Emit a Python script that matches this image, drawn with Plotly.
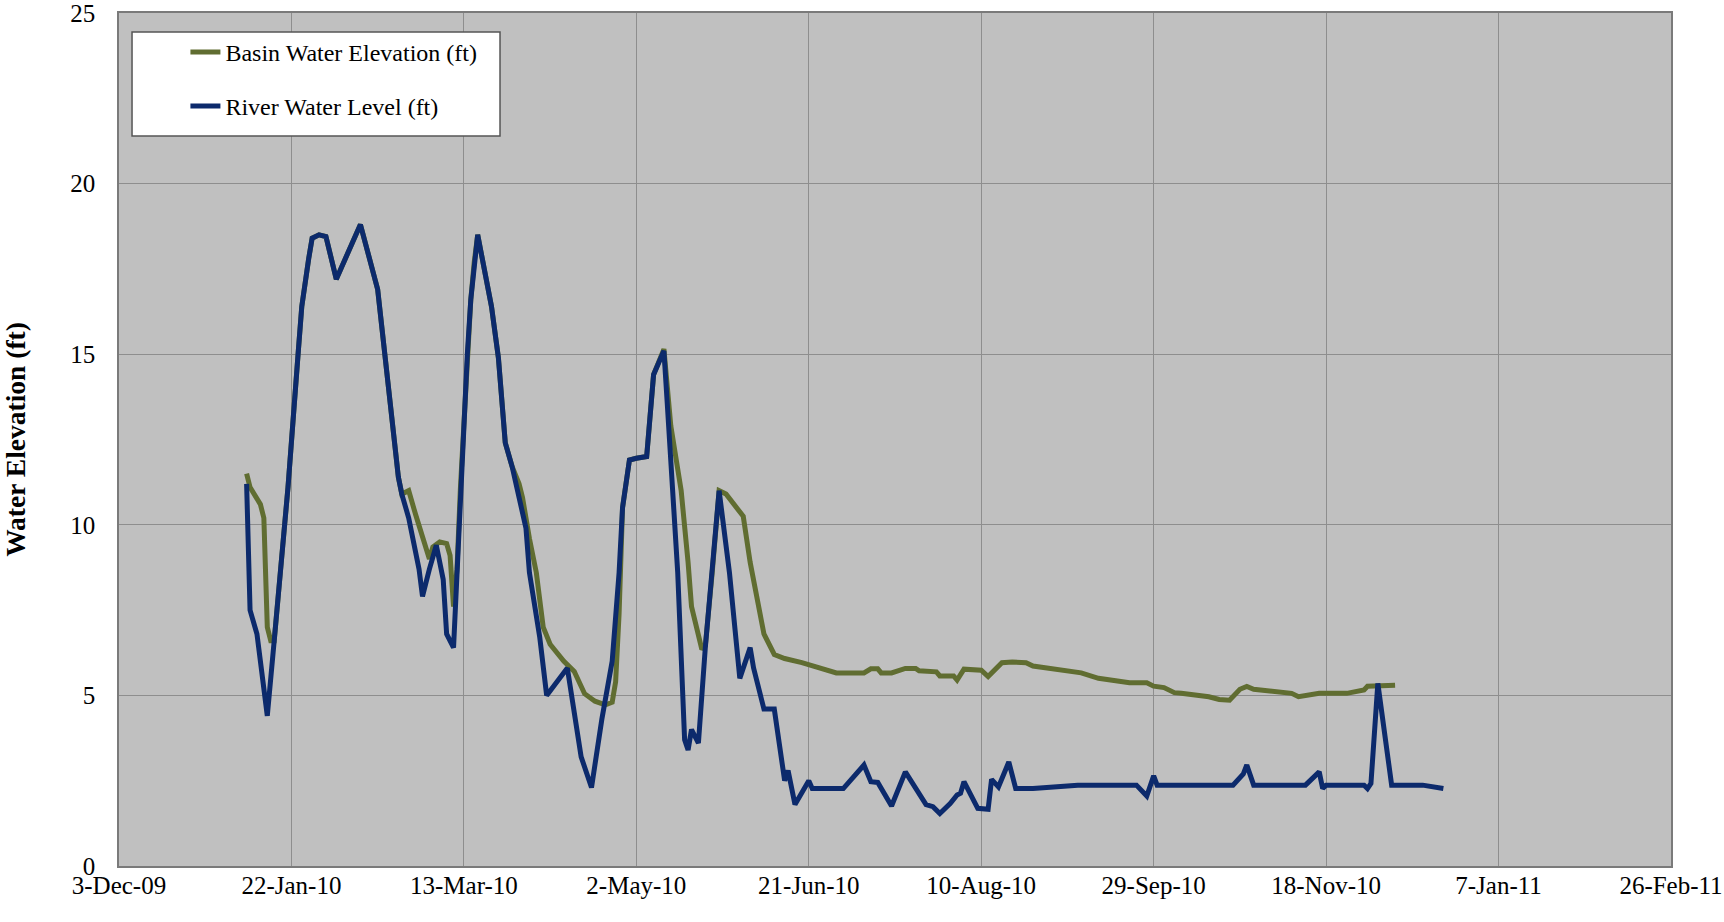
import plotly.graph_objects as go

# ---------------- data ----------------
river_dates = [
    "2010-01-09", "2010-01-10", "2010-01-12", "2010-01-13", "2010-01-15", "2010-01-17",
    "2010-01-19", "2010-01-21", "2010-01-24", "2010-01-25", "2010-01-27", "2010-01-28",
    "2010-01-30", "2010-02-01", "2010-02-04", "2010-02-11", "2010-02-16", "2010-02-18",
    "2010-02-21", "2010-02-22", "2010-02-23", "2010-02-25", "2010-02-28", "2010-03-01",
    "2010-03-03", "2010-03-05", "2010-03-07", "2010-03-08", "2010-03-10", "2010-03-11",
    "2010-03-12", "2010-03-14", "2010-03-15", "2010-03-16", "2010-03-17", "2010-03-21",
    "2010-03-23", "2010-03-25", "2010-03-27", "2010-03-31", "2010-04-01", "2010-04-04",
    "2010-04-06", "2010-04-12", "2010-04-16", "2010-04-19", "2010-04-22", "2010-04-25",
    "2010-04-27", "2010-04-28", "2010-04-30", "2010-05-02", "2010-05-05", "2010-05-07",
    "2010-05-10", "2010-05-11", "2010-05-14", "2010-05-16", "2010-05-17", "2010-05-18",
    "2010-05-20", "2010-05-22", "2010-05-24", "2010-05-26", "2010-05-29", "2010-06-01",
    "2010-06-04", "2010-06-05", "2010-06-08", "2010-06-11", "2010-06-14", "2010-06-15",
    "2010-06-17", "2010-06-21", "2010-06-22", "2010-07-01", "2010-07-07", "2010-07-09",
    "2010-07-11", "2010-07-12", "2010-07-15", "2010-07-19", "2010-07-21", "2010-07-25",
    "2010-07-27", "2010-07-29", "2010-08-01", "2010-08-03", "2010-08-04", "2010-08-05",
    "2010-08-09", "2010-08-12", "2010-08-13", "2010-08-15", "2010-08-18", "2010-08-20",
    "2010-08-25", "2010-09-07", "2010-09-24", "2010-09-27", "2010-09-29", "2010-09-30",
    "2010-10-22", "2010-10-25", "2010-10-26", "2010-10-28", "2010-11-12", "2010-11-16",
    "2010-11-17", "2010-11-18", "2010-11-29", "2010-11-30", "2010-12-01", "2010-12-03",
    "2010-12-07", "2010-12-16", "2010-12-22",
]
river_level = [
    11.2, 7.5, 6.8, 6.0, 4.4, 6.6,
    8.7, 11.1, 15.1, 16.4, 17.8, 18.4,
    18.5, 18.45, 17.2, 18.8, 16.9, 15.1,
    12.3, 11.4, 10.9, 10.2, 8.7, 7.9,
    8.7, 9.4, 8.4, 6.8, 6.4, 8.7,
    11.1, 15.0, 16.6, 17.7, 18.5, 16.4,
    14.9, 12.4, 11.7, 9.9, 8.6, 6.7,
    5.0, 5.8, 3.2, 2.3, 4.3, 6.0,
    8.6, 10.5, 11.9, 11.95, 12.0, 14.4,
    15.1, 13.5, 8.6, 3.7, 3.4, 4.0,
    3.6, 6.4, 8.6, 11.0, 8.6, 5.5,
    6.4, 5.8, 4.6, 4.6, 2.5, 2.8,
    1.8, 2.5, 2.27, 2.27, 2.96, 2.47,
    2.45, 2.27, 1.76, 2.76, 2.42, 1.8,
    1.74, 1.54, 1.83, 2.08, 2.13, 2.47,
    1.69, 1.66, 2.54, 2.32, 3.05, 2.27,
    2.27, 2.37, 2.37, 2.05, 2.64, 2.37,
    2.37, 2.7, 2.96, 2.37, 2.37, 2.76,
    2.27, 2.37, 2.37, 2.27, 2.42, 5.35,
    2.37, 2.37, 2.27,
]

basin_dates = [
    "2010-01-09", "2010-01-10", "2010-01-13", "2010-01-14", "2010-01-15", "2010-01-16",
    "2010-01-17", "2010-01-19", "2010-01-21", "2010-01-24", "2010-01-25", "2010-01-27",
    "2010-01-28", "2010-01-30", "2010-02-01", "2010-02-04", "2010-02-11", "2010-02-16",
    "2010-02-18", "2010-02-21", "2010-02-22", "2010-02-23", "2010-02-25", "2010-02-27",
    "2010-03-01", "2010-03-03", "2010-03-04", "2010-03-06", "2010-03-08", "2010-03-09",
    "2010-03-10", "2010-03-11", "2010-03-12", "2010-03-14", "2010-03-15", "2010-03-16",
    "2010-03-17", "2010-03-21", "2010-03-23", "2010-03-25", "2010-03-27", "2010-03-29",
    "2010-03-30", "2010-04-01", "2010-04-03", "2010-04-05", "2010-04-07", "2010-04-11",
    "2010-04-14", "2010-04-17", "2010-04-20", "2010-04-23", "2010-04-25", "2010-04-26",
    "2010-04-27", "2010-04-28", "2010-04-30", "2010-05-02", "2010-05-05", "2010-05-07",
    "2010-05-10", "2010-05-12", "2010-05-15", "2010-05-17", "2010-05-18", "2010-05-21",
    "2010-05-22", "2010-05-24", "2010-05-26", "2010-05-28", "2010-05-31", "2010-06-01",
    "2010-06-02", "2010-06-04", "2010-06-08", "2010-06-11", "2010-06-14", "2010-06-19",
    "2010-06-27", "2010-06-29", "2010-07-07", "2010-07-09", "2010-07-11", "2010-07-12",
    "2010-07-15", "2010-07-19", "2010-07-22", "2010-07-23", "2010-07-28", "2010-07-29",
    "2010-08-02", "2010-08-03", "2010-08-05", "2010-08-10", "2010-08-12", "2010-08-16",
    "2010-08-19", "2010-08-23", "2010-08-25", "2010-09-08", "2010-09-13", "2010-09-22",
    "2010-09-27", "2010-09-29", "2010-10-02", "2010-10-05", "2010-10-07", "2010-10-15",
    "2010-10-18", "2010-10-21", "2010-10-24", "2010-10-26", "2010-10-28", "2010-11-08",
    "2010-11-10", "2010-11-12", "2010-11-16", "2010-11-24", "2010-11-29", "2010-11-30",
    "2010-12-02", "2010-12-08",
]
basin_elev = [
    11.5, 11.1, 10.6, 10.2, 7.0, 6.6,
    6.6, 8.7, 11.1, 15.1, 16.4, 17.8,
    18.4, 18.5, 18.45, 17.2, 18.8, 16.9,
    15.1, 12.3, 11.4, 10.9, 11.0, 10.3,
    9.6, 9.0, 9.35, 9.5, 9.45, 9.1,
    7.6, 8.7, 11.1, 15.0, 16.6, 17.7,
    18.5, 16.4, 14.9, 12.4, 11.7, 11.2,
    10.8, 9.6, 8.6, 7.0, 6.5, 6.0,
    5.7, 5.05, 4.83, 4.72, 4.8, 5.4,
    7.4, 10.5, 11.9, 11.95, 12.0, 14.4,
    15.15, 12.9, 11.0, 8.9, 7.6, 6.35,
    6.45, 8.6, 11.0, 10.9, 10.5, 10.35,
    10.25, 8.9, 6.8, 6.2, 6.08, 5.96,
    5.74, 5.66, 5.66, 5.78, 5.78, 5.66,
    5.66, 5.79, 5.79, 5.72, 5.69, 5.57,
    5.57, 5.45, 5.77, 5.74, 5.55, 5.96,
    5.98, 5.96, 5.86, 5.66, 5.5, 5.37,
    5.37, 5.27, 5.23, 5.08, 5.06, 4.96,
    4.88, 4.86, 5.18, 5.26, 5.18, 5.06,
    4.96, 4.99, 5.06, 5.06, 5.16, 5.27,
    5.27, 5.3,
]

x_tick_vals = ["2009-12-03", "2010-01-22", "2010-03-13", "2010-05-02", "2010-06-21",
               "2010-08-10", "2010-09-29", "2010-11-18", "2011-01-07", "2011-02-26"]
x_tick_text = ["3-Dec-09", "22-Jan-10", "13-Mar-10", "2-May-10", "21-Jun-10",
               "10-Aug-10", "29-Sep-10", "18-Nov-10", "7-Jan-11", "26-Feb-11"]
y_tick_vals = [0, 5, 10, 15, 20, 25]

series_names = ["Basin Water Elevation (ft)", "River Water Level (ft)"]
y_title = "Water Elevation (ft)"

# ---------------- figure ----------------
FONT = "Liberation Serif, Times New Roman, serif"
GREEN = "#606d31"
BLUE = "#0c2a6c"

fig = go.Figure()
fig.add_trace(go.Scatter(x=basin_dates, y=basin_elev, mode="lines", name=series_names[0],
                         line=dict(color=GREEN, width=5), legendgroup="a"))
fig.add_trace(go.Scatter(x=river_dates, y=river_level, mode="lines", name=series_names[1],
                         line=dict(color=BLUE, width=5), legendgroup="b"))

fig.update_layout(
    width=1724, height=922,
    margin=dict(l=119, r=53, t=13, b=56),
    paper_bgcolor="white",
    plot_bgcolor="#c0c0c0",
    font=dict(family=FONT, size=25, color="black"),
    showlegend=True,
    legend=dict(
        x=0.0428, y=0.9803, xanchor="left", yanchor="top",
        bgcolor="rgba(0,0,0,0)", borderwidth=0,
        font=dict(family=FONT, size=24, color="black"),
        tracegroupgap=20, traceorder="grouped",
    ),
    shapes=[dict(type="rect", xref="paper", yref="paper",
                 x0=0.0084, x1=0.2455, y0=0.8558, y1=0.9777,
                 fillcolor="white", line=dict(color="#555555", width=1.5),
                 layer="above")],
)

fig.update_xaxes(
    type="date",
    range=["2009-12-03", "2011-02-26"],
    tickmode="array", tickvals=x_tick_vals, ticktext=x_tick_text,
    showgrid=True, gridcolor="#8e8e8e", gridwidth=1,
    showline=True, linecolor="#7a7a7a", linewidth=1.5, mirror=True,
    ticks="", zeroline=False, automargin=False, ticklabelstandoff=-4,
    ticklabeloverflow="allow",
    tickfont=dict(family=FONT, size=25, color="black"),
)
fig.update_yaxes(
    range=[0, 25],
    tickmode="array", tickvals=y_tick_vals,
    showgrid=True, gridcolor="#8e8e8e", gridwidth=1,
    showline=True, linecolor="#7a7a7a", linewidth=1.5, mirror=True,
    ticks="", zeroline=False, ticklabelstandoff=17, automargin=False,
    ticklabeloverflow="allow",
    tickfont=dict(family=FONT, size=25, color="black"),
    title=dict(text="<b>" + y_title + "</b>", standoff=39,
               font=dict(family=FONT, size=27.5, color="black")),
)

# remove the page's default 8px body margin so the figure fills the window exactly
fig.write_html("out.html", config={"displayModeBar": False},
               post_script="document.body.style.margin='0px';")
